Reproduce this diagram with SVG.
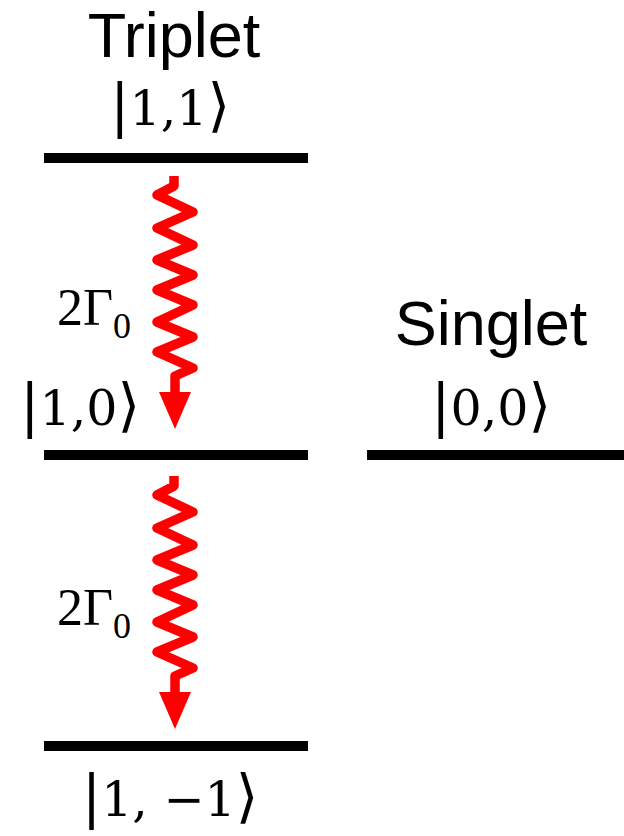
<svg xmlns="http://www.w3.org/2000/svg" width="624" height="836" viewBox="0 0 624 836">
<style>
.lvl{stroke:#000;stroke-width:10;fill:none}
.lbl{font-family:"Liberation Sans",Arial,sans-serif;font-size:63px;fill:#000;text-anchor:middle}
.ket{font-family:"DejaVu Serif","Liberation Serif",serif;font-size:49px;fill:#000;text-anchor:middle}
.br{font-size:58px}
.rate{font-family:"Liberation Serif","DejaVu Serif",serif;font-size:52px;fill:#000}
.sub{font-size:36px}
.wave{stroke:#ff0000;stroke-width:9.5;fill:none;stroke-linejoin:round}
.head{fill:#ff0000}
</style>
<defs>
<g id="wavy">
<path class="wave" d="M174,176 L174,186 L157,195 L193,212 L157,228 L193,245 L157,260 L193,275 L157,290 L193,305 L157,322 L193,337 L157,352 L193,368 L175,376 L175,396"/>
<polygon class="head" points="159,392 191,392 175,429"/>
</g>
</defs>
<rect width="624" height="836" fill="#fff"/>
<g id="triplet-1-1">
<text class="lbl" x="174" y="57">Triplet</text>
<text class="ket" x="170" y="125"><tspan class="br">|</tspan>1,1<tspan class="br">⟩</tspan></text>
<line class="lvl" x1="44" y1="158" x2="308" y2="158"/>
</g>
<g id="triplet-1-0">
<text class="ket" x="80" y="425"><tspan class="br">|</tspan>1,0<tspan class="br">⟩</tspan></text>
<line class="lvl" x1="44" y1="455" x2="308" y2="455"/>
</g>
<g id="triplet-1-m1">
<line class="lvl" x1="44" y1="746" x2="308" y2="746"/>
<text class="ket" x="170" y="816"><tspan class="br">|</tspan>1, −1<tspan class="br">⟩</tspan></text>
</g>
<g id="singlet-0-0">
<text class="lbl" x="491" y="345">Singlet</text>
<text class="ket" x="491" y="425"><tspan class="br">|</tspan>0,0<tspan class="br">⟩</tspan></text>
<line class="lvl" x1="367" y1="455" x2="624" y2="455"/>
</g>
<g id="connectors">
<use href="#wavy"/>
<use href="#wavy" transform="translate(0,300)"/>
<text class="rate" x="57" y="325">2Γ<tspan class="sub" dy="13">0</tspan></text>
<text class="rate" x="57" y="625">2Γ<tspan class="sub" dy="13">0</tspan></text>
</g>
</svg>
